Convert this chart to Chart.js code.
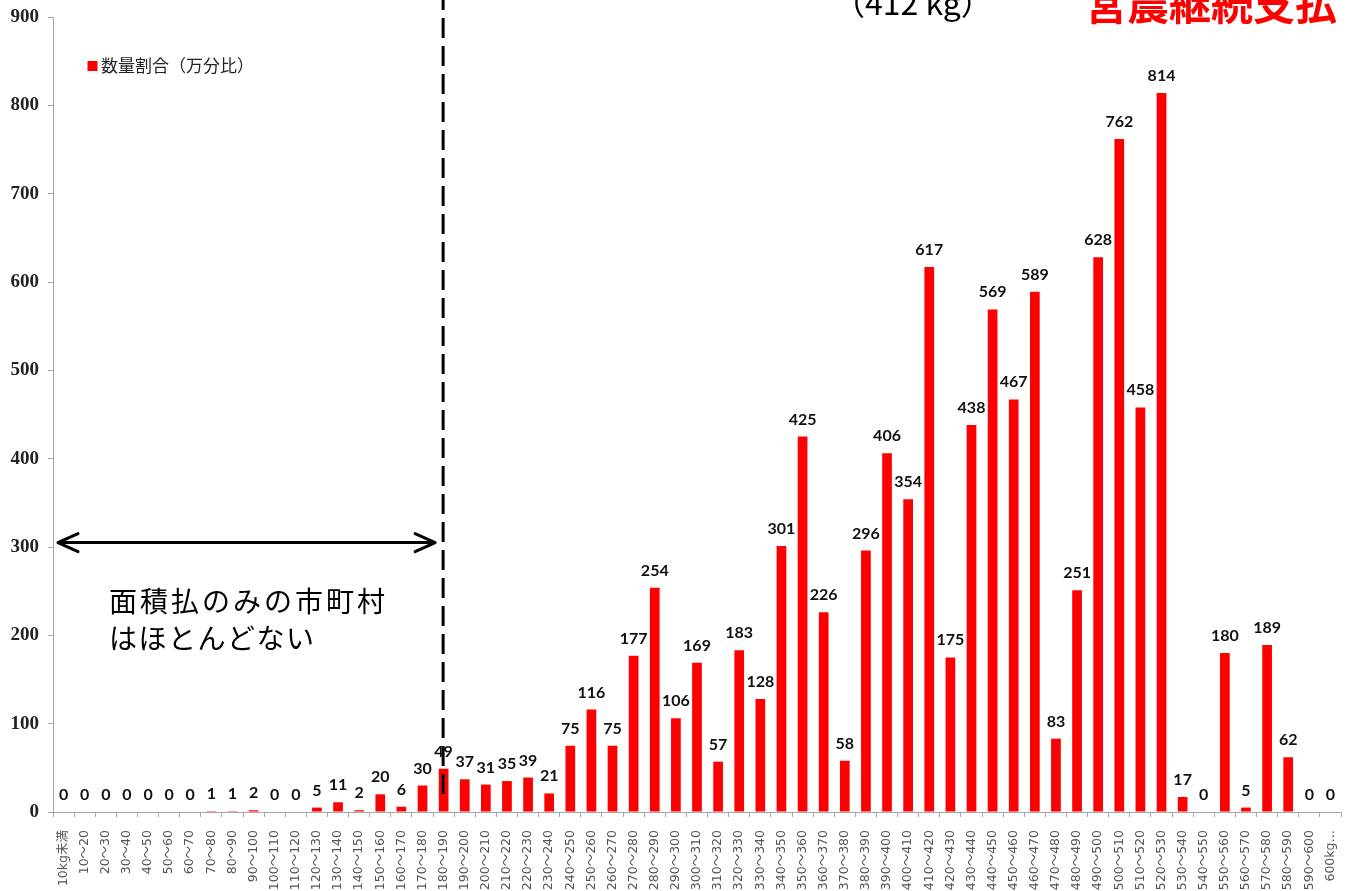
<!DOCTYPE html>
<html lang="ja">
<head>
<meta charset="utf-8">
<title>数量割合(万分比)</title>
<script src="https://cdn.jsdelivr.net/npm/chart.js@4/dist/chart.umd.min.js"></script>
<style>
  html, body { margin: 0; padding: 0; background: #fff; }
  #wrap { position: relative; width: 1354px; height: 891px; }
</style>
</head>
<body>
<div id="wrap"><canvas id="c"></canvas></div>
<script>
// 10kg刻みの単収階級
const categories = [
  '10kg未満', '10～20', '20～30', '30～40', '40～50', '50～60', '60～70', '70～80', '80～90', '90～100',
  '100～110', '110～120', '120～130', '130～140', '140～150', '150～160', '160～170', '170～180', '180～190', '190～200',
  '200～210', '210～220', '220～230', '230～240', '240～250', '250～260', '260～270', '270～280', '280～290', '290～300',
  '300～310', '310～320', '320～330', '330～340', '340～350', '350～360', '360～370', '370～380', '380～390', '390～400',
  '400～410', '410～420', '420～430', '430～440', '440～450', '450～460', '460～470', '470～480', '480～490', '490～500',
  '500～510', '510～520', '520～530', '530～540', '540～550', '550～560', '560～570', '570～580', '580～590', '590～600',
  '600kg…'
];

// 数量割合（万分比）
const shareValues = [
  0, 0, 0, 0, 0, 0, 0, 1, 1, 2,
  0, 0, 5, 11, 2, 20, 6, 30, 49, 37,
  31, 35, 39, 21, 75, 116, 75, 177, 254, 106,
  169, 57, 183, 128, 301, 425, 226, 58, 296, 406,
  354, 617, 175, 438, 569, 467, 589, 83, 251, 628,
  762, 458, 814, 17, 0, 180, 5, 189, 62, 0,
  0
];

const yTicks = [0, 100, 200, 300, 400, 500, 600, 700, 800, 900];

const seriesName = '数量割合（万分比）';
const boundaryCategory = '180～190';
const noteLines = ['面積払のみの市町村', 'はほとんどない'];
const headNote = '（412 kg）';
const headTitle = '営農継続支払';

const BAR_RED = '#ff0000';
const CJK = '"Noto Sans CJK JP", "Noto Sans", sans-serif';

// 棒の上の数値ラベル、境界の破線、矢印、注記、凡例
const overlayPlugin = {
  id: 'overlay',
  afterDatasetsDraw(chart) {
    const ctx = chart.ctx;
    const xs = chart.scales.x;
    const ys = chart.scales.y;
    const area = chart.chartArea;
    const meta = chart.getDatasetMeta(0);

    // 数値ラベル
    ctx.save();
    ctx.font = 'bold 16px Lato, "Liberation Sans", sans-serif';
    ctx.fillStyle = '#111';
    ctx.textAlign = 'center';
    ctx.textBaseline = 'alphabetic';
    meta.data.forEach((bar, i) => {
      const v = shareValues[i];
      ctx.fillText(String(v), bar.x, ys.getPixelForValue(v) - 12);
    });
    ctx.restore();

    // 境界の破線
    const bx = xs.getPixelForValue(categories.indexOf(boundaryCategory)) - 0.5;
    ctx.save();
    ctx.strokeStyle = '#000';
    ctx.lineWidth = 3;
    ctx.setLineDash([20, 8]);
    ctx.lineDashOffset = 10;
    ctx.beginPath();
    ctx.moveTo(bx, 0);
    ctx.lineTo(bx, area.bottom - 10);
    ctx.stroke();
    ctx.restore();

    // 両矢印
    const ay = ys.getPixelForValue(305);
    const ax0 = area.left + 5;
    const ax1 = bx - 8;
    ctx.save();
    ctx.strokeStyle = '#000';
    ctx.lineWidth = 3;
    ctx.lineCap = 'round';
    ctx.lineJoin = 'round';
    ctx.beginPath();
    ctx.moveTo(ax0, ay);
    ctx.lineTo(ax1, ay);
    ctx.moveTo(ax0 + 20, ay - 9);
    ctx.lineTo(ax0, ay);
    ctx.lineTo(ax0 + 20, ay + 9);
    ctx.moveTo(ax1 - 20, ay - 9);
    ctx.lineTo(ax1, ay);
    ctx.lineTo(ax1 - 20, ay + 9);
    ctx.stroke();
    ctx.restore();

    // 注記
    ctx.save();
    ctx.font = '28px ' + CJK;
    ctx.fillStyle = '#000';
    ctx.textAlign = 'left';
    ctx.textBaseline = 'alphabetic';
    if ('letterSpacing' in ctx) ctx.letterSpacing = '3px';
    ctx.fillText(noteLines[0], area.left + 56, 612);
    if ('letterSpacing' in ctx) ctx.letterSpacing = '1.5px';
    ctx.fillText(noteLines[1], area.left + 56, 649);
    ctx.restore();

    // 凡例
    ctx.save();
    ctx.fillStyle = BAR_RED;
    ctx.fillRect(area.left + 34.5, 61, 10, 10);
    ctx.font = '17px ' + CJK;
    ctx.fillStyle = '#222';
    ctx.textAlign = 'left';
    ctx.textBaseline = 'middle';
    ctx.fillText(seriesName, area.left + 48, 66);
    ctx.restore();

    // 上端の見出し
    ctx.save();
    ctx.textBaseline = 'alphabetic';
    ctx.textAlign = 'left';
    ctx.font = '32px ' + CJK;
    ctx.fillStyle = '#000';
    ctx.fillText(headNote, 833, 15);
    ctx.textAlign = 'center';
    ctx.font = 'bold 42px ' + CJK;
    ctx.fillStyle = BAR_RED;
    ctx.fillText(headTitle, 1211, 20);
    ctx.restore();
  }
};

new Chart(document.getElementById('c'), {
  type: 'bar',
  data: {
    labels: categories,
    datasets: [{
      label: seriesName,
      data: shareValues,
      backgroundColor: BAR_RED,
      borderWidth: 0,
      categoryPercentage: 1.0,
      barPercentage: 0.46
    }]
  },
  options: {
    responsive: true,
    maintainAspectRatio: false,
    animation: false,
    layout: { padding: { top: 17, right: 13, left: 0, bottom: 0 } },
    plugins: {
      legend: { display: false },
      tooltip: { enabled: false }
    },
    scales: {
      x: {
        grid: {
          offset: true,
          drawOnChartArea: false,
          drawTicks: true,
          tickLength: 5,
          color: '#a6a6a6'
        },
        border: { display: true, color: '#a6a6a6', width: 1 },
        ticks: {
          autoSkip: false,
          minRotation: 90,
          maxRotation: 90,
          padding: 13,
          color: '#555',
          font: { family: '"DejaVu Sans", ' + CJK, size: 12.5 }
        },
        afterFit(scale) {
          scale.height = 79;
          scale.paddingLeft = 0;
          scale.paddingRight = 0;
        }
      },
      y: {
        min: 0,
        max: 900,
        afterBuildTicks(scale) { scale.ticks = yTicks.map(v => ({ value: v })); },
        grid: {
          drawOnChartArea: false,
          drawTicks: true,
          tickLength: 5,
          color: '#a6a6a6'
        },
        border: { display: true, color: '#a6a6a6', width: 1 },
        ticks: {
          padding: 9,
          color: '#222',
          font: { family: '"Liberation Serif", serif', size: 19, weight: 'bold' }
        },
        afterFit(scale) {
          scale.width = 53;
          scale.paddingTop = 0;
          scale.paddingBottom = 0;
        }
      }
    }
  },
  plugins: [overlayPlugin]
});
</script>
</body>
</html>
